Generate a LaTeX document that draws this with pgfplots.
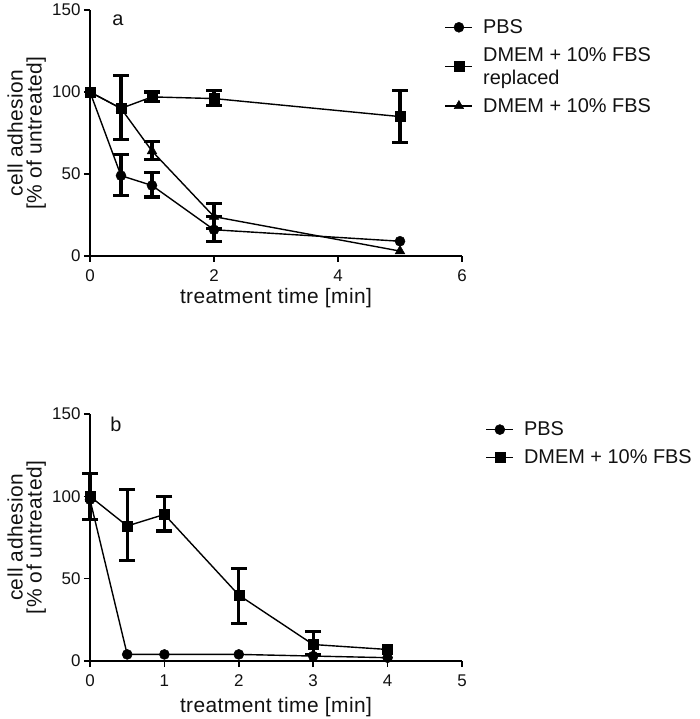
\documentclass[border=0pt]{standalone}
\usepackage{pgfplots}
\pgfplotsset{compat=1.18}
\usepackage{fontspec}
\setmainfont{Liberation Sans}
\newfontfamily\lsfont{Liberation Sans}[LetterSpace=2]
\definecolor{txt}{HTML}{111111}
\tikzset{errline/.style={line width=3.2bp}, serline/.style={line width=1.4bp}}
\pgfplotsset{
  panel/.style={
    scale only axis, width=372bp,
    axis lines*=left, axis line style={line width=1.6bp},
    every tick/.style={line width=1.6bp, black},
    tick align=outside, major tick length=6bp,
    enlargelimits=false, clip=false,
    ymin=0, ymax=150, ytick={0,50,100,150},
    /pgf/number format/assume math mode=true,
    tick label style={font=\fontsize{17}{20}\selectfont, text=txt},
    xticklabel style={yshift=-4bp},
    label style={font=\lsfont\fontsize{21}{19}\selectfont, text=txt},
    ylabel={cell adhesion\\{[\%} of untreated]},
    ylabel style={align=center, rotate=0, at={(axis description cs:-0.17,0.5)}, anchor=center},
    xlabel={treatment time [min]},
    legend style={draw=none, fill=none, font=\fontsize{20}{23}\selectfont, text=txt,
      cells={anchor=west, align=left}, row sep=8.5bp, column sep=8bp},
    legend cell align=left,
    legend image code/.code={\draw[mark repeat=2,mark phase=2, serline] plot coordinates {(0bp,0bp) (13.5bp,0bp) (27bp,0bp)};},
  },
}
\begin{document}
\begin{tikzpicture}
\path[use as bounding box] (0,0) rectangle (700bp,719bp);
% ---------- panel a ----------
\begin{axis}[panel, at={(90bp,463bp)}, anchor=south west, height=246bp,
  xmin=0, xmax=6, xtick={0,2,4,6},
  xlabel style={at={(axis description cs:0.5,-0.171)}, anchor=center},
  legend style={at={(axis description cs:0.945,0.978)}, anchor=north west}]
% PBS error bars
\addplot[forget plot, black, /tikz/errline, mark=-, mark size=8bp, mark options={solid, /tikz/errline}, unbounded coords=jump]
  coordinates {(0.5,37) (0.5,62) (0.5,nan) (1,36) (1,51) (1,nan) (2,9) (2,24)};
% DMEM + 10% FBS replaced error bars
\addplot[forget plot, black, /tikz/errline, mark=-, mark size=8bp, mark options={solid, /tikz/errline}, unbounded coords=jump]
  coordinates {(0.5,71) (0.5,110) (0.5,nan) (1,94) (1,100) (1,nan) (2,92) (2,101) (2,nan) (5,69) (5,101)};
% DMEM + 10% FBS error bars
\addplot[forget plot, black, /tikz/errline, mark=-, mark size=8bp, mark options={solid, /tikz/errline}, unbounded coords=jump]
  coordinates {(1,59) (1,70) (1,nan) (2,17) (2,32)};
\addplot[black, /tikz/serline, mark=*, mark size=5bp, mark options={solid, fill=black, line width=0.5bp}] coordinates {(0,100) (0.5,49) (1,43) (2,16) (5,9)};
\addlegendentry{PBS}
\addplot[black, /tikz/serline, mark=square*, mark size=5bp, mark options={solid, fill=black, line width=0.5bp}] coordinates {(0,100) (0.5,90) (1,97) (2,96) (5,85)};
\addlegendentry{DMEM + 10\% FBS\\replaced}
\addplot[black, /tikz/serline, mark=triangle*, mark size=5.5bp, mark options={solid, fill=black, line width=0.5bp}] coordinates {(0,100) (0.5,90) (1,64) (2,24) (5,3)};
\addlegendentry{DMEM + 10\% FBS}
\node[font=\fontsize{20}{23}\selectfont, text=txt] at (axis cs:0.45,144) {a};
\end{axis}
% ---------- panel b ----------
\begin{axis}[panel, at={(90bp,58bp)}, anchor=south west, height=247bp,
  xmin=0, xmax=5, xtick={0,1,2,3,4,5},
  xlabel style={at={(axis description cs:0.5,-0.186)}, anchor=center},
  legend style={at={(axis description cs:1.055,0.985)}, anchor=north west}]
\addplot[forget plot, black, /tikz/errline, mark=-, mark size=8bp, mark options={solid, /tikz/errline}, unbounded coords=jump]
  coordinates {(0,86) (0,114) (0,nan) (0.5,61) (0.5,104) (0.5,nan) (1,79) (1,100) (1,nan) (2,23) (2,56) (2,nan) (3,4) (3,18)};
\addplot[black, /tikz/serline, mark=*, mark size=5bp, mark options={solid, fill=black, line width=0.5bp}] coordinates {(0,98) (0.5,4) (1,4) (2,4) (3,3) (4,2)};
\addlegendentry{PBS}
\addplot[black, /tikz/serline, mark=square*, mark size=5bp, mark options={solid, fill=black, line width=0.5bp}] coordinates {(0,100) (0.5,82) (1,89) (2,40) (3,10) (4,7)};
\addlegendentry{DMEM + 10\% FBS}
\node[font=\fontsize{20}{23}\selectfont, text=txt] at (axis cs:0.35,144) {b};
\end{axis}
\end{tikzpicture}
\end{document}
